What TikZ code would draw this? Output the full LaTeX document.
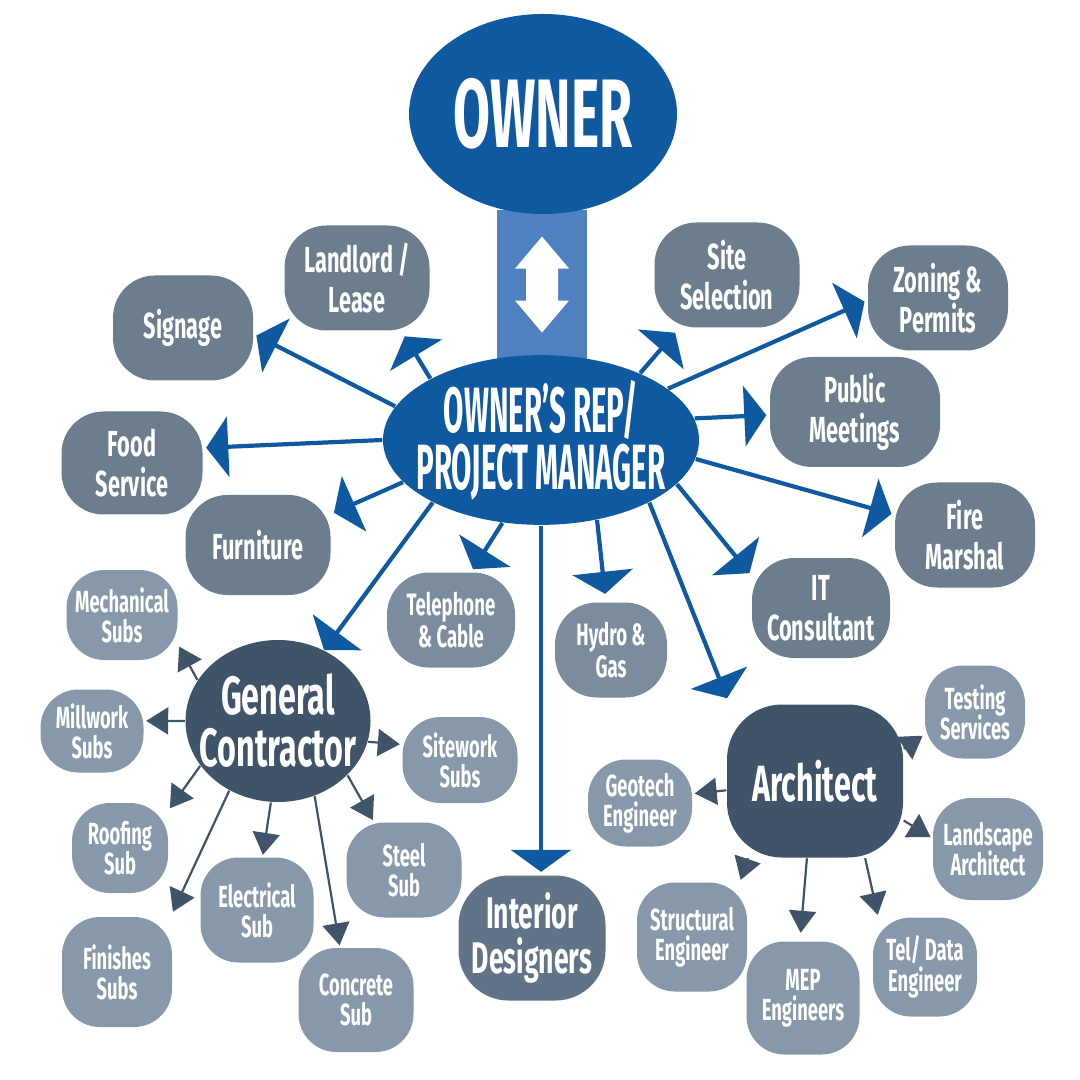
\documentclass[tikz,border=0pt]{standalone}
\usepackage{fontspec}
\newfontfamily\blobfont{Fira Sans}[FakeStretch=0.6]
\newfontfamily\ownerfont{Fira Sans}[FakeStretch=0.55]
\newfontfamily\pmfont{Fira Sans}[FakeStretch=0.46]
\usetikzlibrary{shapes.geometric,arrows.meta,calc,backgrounds}
\definecolor{ownerblue}{HTML}{0E59A0}
\definecolor{barblue}{HTML}{4F81C0}
\definecolor{pmgrey}{HTML}{6C7D8D}
\definecolor{midgrey}{HTML}{7A8C9E}
\definecolor{subgrey}{HTML}{8698AA}
\definecolor{idgrey}{HTML}{607387}
\definecolor{slate}{HTML}{3F5468}
\newcommand\setfs[2]{\fontsize{#1}{#2}\selectfont\lineskiplimit=-20pt}

\begin{document}
\begin{tikzpicture}[
  x=0.01cm, y=-0.01cm,
  sz/.style 2 args={minimum width=#1*0.01cm, minimum height=#2*0.01cm},
  oval/.style={ellipse, fill=#1, text=white, inner xsep=-0.16cm, inner ysep=0pt, align=center},
  blob/.style={rectangle, rounded corners=0.42cm, fill=#1, text=white, inner sep=0pt, align=center,
    font=\blobfont\bfseries\setfs{10.3}{11.4}},
  sub/.style={blob=subgrey, rounded corners=0.38cm, font=\blobfont\bfseries\setfs{8.7}{8.6}},
  pmarr/.style={-{Triangle[length=0.22cm, width=0.6cm]}, line width=0.042cm, ownerblue, shorten >=#1},
  pmarr/.default=0.03cm,
  subarr/.style={-{Triangle[length=0.22cm, width=0.27cm]}, line width=0.022cm, slate, shorten >=#1},
  subarr/.default=0.02cm
]
  \useasboundingbox (0,0) rectangle (1080,1080);

  % top of the chart
  \node[oval=ownerblue, sz={268}{200}, font=\ownerfont\bfseries\setfs{27.7}{30}] (owner) at (543,114) {OWNER};
  \node[oval=ownerblue, sz={316}{165}, font=\pmfont\bfseries\setfs{18.2}{16.2}] (pm) at (541,440) {OWNER’S REP/\\PROJECT MANAGER};
  \coordinate (barmid) at ($(owner.south)!0.5!(pm.north)$);
  \begin{scope}[on background layer]
    \fill[white] (0,0) rectangle (1080,1080);
    \fill[barblue] ($(owner.south)+(-46,-5)$) rectangle ($(pm.north)+(46,5)$);
  \end{scope}
  \fill[white, shift={(barmid)}] (0,-48) -- (27,-16) -- (16,-16) -- (16,16) -- (27,16) -- (0,48)
    -- (-27,16) -- (-16,16) -- (-16,-16) -- (-27,-16) -- cycle;

  % owner's rep children
  \node[blob=pmgrey, sz={145}{105}] (landlord) at (357,278) {Landlord /\\Lease};
  \node[blob=pmgrey, sz={140}{105}] (signage) at (183,328) {Signage};
  \node[blob=pmgrey, sz={141}{103}] (food) at (132,463) {Food\\Service};
  \node[blob=pmgrey, sz={145}{100}] (furniture) at (258,545) {Furniture};
  \node[blob=pmgrey, sz={145}{105}] (site) at (727,275) {Site\\Selection};
  \node[blob=pmgrey, sz={140}{105}] (zoning) at (938,298) {Zoning \&\\Permits};
  \node[blob=pmgrey, sz={170}{110}] (meetings) at (855,412) {Public\\Meetings};
  \node[blob=pmgrey, sz={140}{105}] (fire) at (965,535) {Fire\\Marshal};
  \node[blob=pmgrey, sz={138}{100}] (itcons) at (821,608) {IT\\Consultant};
  \node[blob=midgrey, sz={128}{95}, font=\blobfont\bfseries\setfs{8.8}{9.2}] (telephone) at (451,620) {Telephone\\\& Cable};
  \node[blob=midgrey, sz={112}{95}, font=\blobfont\bfseries\setfs{8.8}{9.2}] (hydro) at (611,650) {Hydro \&\\Gas};
  \node[blob=idgrey, sz={147}{125}, rounded corners=0.5cm, font=\blobfont\bfseries\setfs{12.6}{12.8}] (interior) at (532,938) {Interior\\Designers};

  \node[oval=slate, sz={185}{162}, font=\blobfont\bfseries\setfs{15.3}{14.8}] (gc) at (278,721) {General\\Contractor};
  \node[blob=slate, sz={176}{153}, rounded corners=0.55cm, font=\blobfont\bfseries\setfs{14.5}{15}] (architect) at (815,781) {Architect};

  % general contractor subs
  \node[sub, sz={111}{90}] (mechanical) at (122,615) {Mechanical\\Subs};
  \node[sub, sz={103}{83}] (millwork) at (92,731) {Millwork\\Subs};
  \node[sub, sz={96}{90}] (roofing) at (120,848) {Roofing\\Sub};
  \node[sub, sz={110}{110}] (finishes) at (117,972) {Finishes\\Subs};
  \node[sub, sz={113}{105}] (electrical) at (257,910) {Electrical\\Sub};
  \node[sub, sz={115}{104}] (concrete) at (356,1000) {Concrete\\Sub};
  \node[sub, sz={115}{95}] (steel) at (404,870) {Steel\\Sub};
  \node[sub, sz={115}{86}] (sitework) at (460,760) {Sitework\\Subs};

  % architect consultants
  \node[sub, sz={100}{93}] (testing) at (975,712) {Testing\\Services};
  \node[sub, sz={104}{87}] (geotech) at (640,803) {Geotech\\Engineer};
  \node[sub, sz={110}{102}] (landscape) at (988,849) {Landscape\\Architect};
  \node[sub, sz={110}{109}] (structural) at (692,937) {Structural\\Engineer};
  \node[sub, sz={113}{113}] (mep) at (803,998) {MEP\\Engineers};
  \node[sub, sz={104}{99}] (teldata) at (925,967) {Tel/ Data\\Engineer};

  \draw[pmarr=0.06cm] (pm.151) -- (landlord.-50);
  \draw[pmarr] (pm.167) -- (signage.-5);
  \draw[pmarr] (pm.180) -- (food.12);
  \draw[pmarr] (pm.197) -- (furniture.23);
  \draw[pmarr=0cm] (pm.210) -- (gc.57);
  \draw[pmarr] (pm.245) -- (telephone.67);
  \draw[pmarr] (pm.south) -- (pm.south |- interior.north);
  \draw[pmarr=0.08cm] (pm.305) -- (hydro.96);
  \draw[pmarr=0.06cm] (pm.330) -- (architect.138);
  \draw[pmarr] (pm.342) -- (itcons.155);
  \draw[pmarr] (pm.353) -- (fire.164);
  \draw[pmarr] (pm.8) -- (meetings.182);
  \draw[pmarr] (pm.22) -- (zoning.182);
  \draw[pmarr=0.06cm] (pm.34) -- (site.228);

  \draw[subarr] (gc.153) -- (mechanical.-28);
  \draw[subarr] (gc.180) -- (millwork.11);
  \draw[subarr] (gc.210) -- (roofing.38);
  \draw[subarr=0.05cm] (gc.235) -- (finishes.46);
  \draw[subarr] (gc.265) -- (electrical.84);
  \draw[subarr] (gc.296) -- (concrete.107);
  \draw[subarr] (gc.322) -- (steel.122);
  \draw[subarr] (gc.347) -- (sitework.165);

  \draw[subarr] (architect.20) -- (testing.204);
  \draw[subarr] (architect.336) -- (landscape.169);
  \draw[subarr] (architect.186) -- (geotech.10);
  \draw[subarr] (architect.229) -- (structural.49);
  \draw[subarr=0.08cm] (architect.264) -- (mep.93);
  \draw[subarr] (architect.303) -- (teldata.133);
\end{tikzpicture}
\end{document}
